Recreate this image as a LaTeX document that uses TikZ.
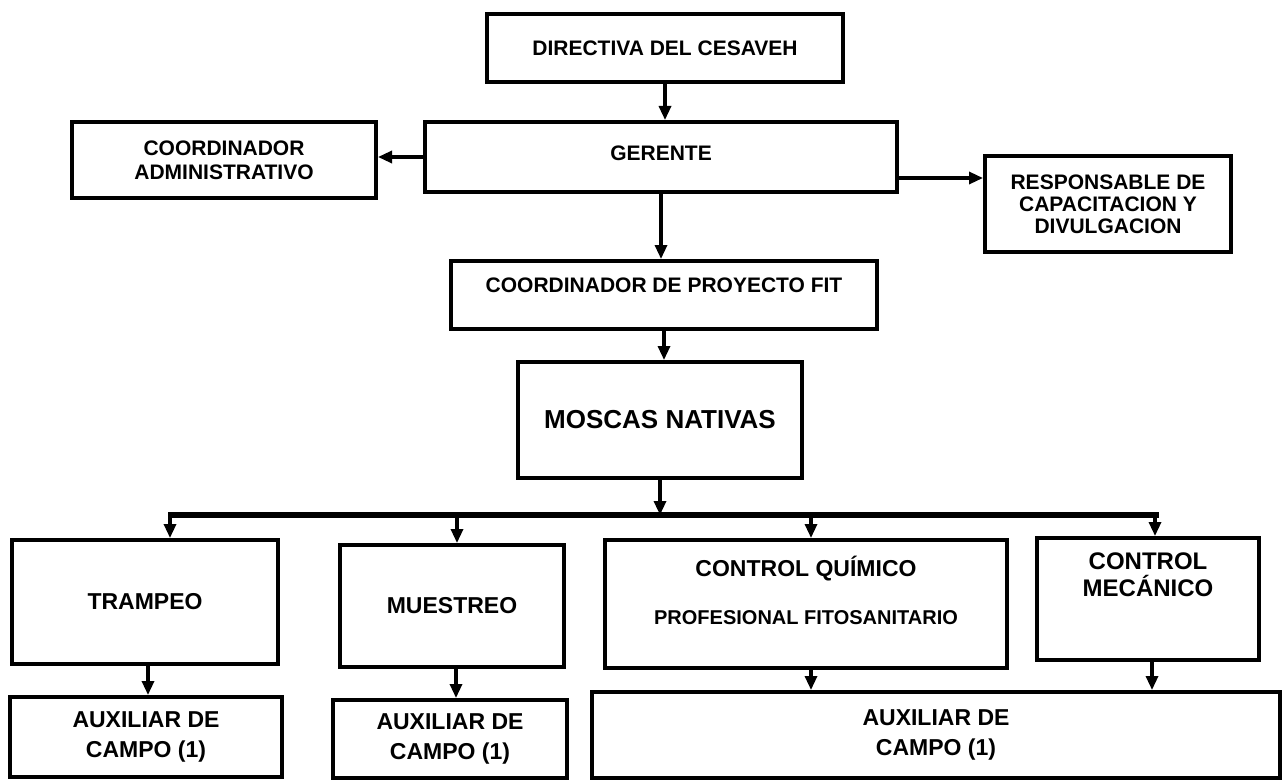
\documentclass[tikz,border=0pt]{standalone}
\usepackage{fontspec}
\setmainfont{Liberation Sans}
\usetikzlibrary{arrows.meta}
\begin{document}
\begin{tikzpicture}[x = .5pt, y = -.5pt,
        box/.style = {draw = black, line width = 2pt, align = center, inner sep = 0pt,
            font = \bfseries\fontsize{10.5}{12}\selectfont},
        low/.style = {box, font = \bfseries\fontsize{11.5}{13}\selectfont},
        arr/.style = {-{Triangle[length = 7pt, width = 6pt]}, line width = 1.6pt},
        bus/.style = {line width = 2.8pt}]
    \clip (0,0) rectangle (1284,781);

    % Draw the upper levels:
    \node [box, minimum width = 178pt, minimum height = 34pt] (dir) at (665,48) {DIRECTIVA DEL CESAVEH};
    \node [box, minimum width = 236pt, minimum height = 35pt, text depth = 4pt] (ger) at (661,157) {GERENTE};
    \node [box, minimum width = 152pt, minimum height = 38pt] (adm) at (224,160) {COORDINADOR\\ADMINISTRATIVO};
    \node [box, minimum width = 123pt, minimum height = 48pt, font = \bfseries\fontsize{10.5}{11}\selectfont] (resp) at (1108,204)
        {RESPONSABLE DE\\CAPACITACION Y\\DIVULGACION};
    \node [box, minimum width = 213pt, minimum height = 34pt, text depth = 10pt] (fit) at (664,295) {COORDINADOR DE PROYECTO FIT};
    \node [box, minimum width = 142pt, minimum height = 58pt, font = \bfseries\fontsize{13}{15}\selectfont] (mos) at (660,420) {MOSCAS NATIVAS};

    % Draw the areas:
    \node [low, minimum width = 133pt, minimum height = 62pt] (tra) at (145,602) {TRAMPEO};
    \node [low, minimum width = 112pt, minimum height = 61pt] (mue) at (452,606) {MUESTREO};
    \node [low, minimum width = 201pt, minimum height = 64pt, text depth = 14pt] (qui) at (806,604)
        {CONTROL QU\'IMICO\\[11pt]{\fontsize{10}{11}\selectfont PROFESIONAL FITOSANITARIO}};
    \node [low, minimum width = 111pt, minimum height = 61pt, text depth = 24pt, font = \bfseries\fontsize{12}{13.5}\selectfont] (mec) at (1148,599) {CONTROL\\MEC\'ANICO};

    % Draw the field assistants:
    \node [low, minimum width = 136pt, minimum height = 40pt] (aux1) at (146,737) {AUXILIAR DE\\[2pt]CAMPO (1)};
    \node [low, minimum width = 117pt, minimum height = 39pt] (aux2) at (450,739) {AUXILIAR DE\\[2pt]CAMPO (1)};
    \node [low, minimum width = 344pt, minimum height = 43pt] (aux3) at (936,735) {AUXILIAR DE\\[2pt]CAMPO (1)};

    % Draw the connectors:
    \draw [arr] (dir.south) -- (dir.south |- ger.north);
    \draw [arr] (ger.west) -- (ger.west -| adm.east);
    \draw [arr] (ger.east) ++(0,21) coordinate (g) -- (g -| resp.west);
    \draw [arr] (ger.south) -- (ger.south |- fit.north);
    \draw [arr] (fit.south) -- (fit.south |- mos.north);
    \coordinate (b) at (660,515);
    \draw [arr] (mos.south) -- (mos.south |- b);
    \draw [bus] (168,515) -- (1159,515);
    \foreach \x/\n in {170/tra, 457/mue, 811/qui, 1155/mec}
        \draw [arr] (\x,515) -- (\x,0 |- \n.north);
    \foreach \x/\a/\b in {148/tra/aux1, 456/mue/aux2, 811/qui/aux3, 1152/mec/aux3}
        \draw [arr] (\x,0 |- \a.south) -- (\x,0 |- \b.north);
\end{tikzpicture}
\end{document}
